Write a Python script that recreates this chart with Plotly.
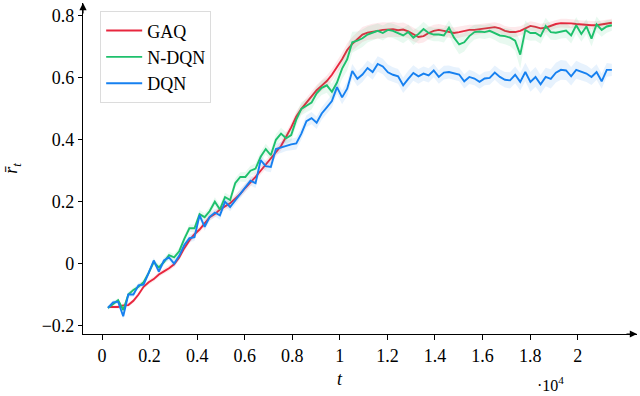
#!/usr/bin/env python3

import plotly.graph_objects as go

# training steps (x axis), one point every ~214 steps
steps = [250 + 214 * k for k in range(100)]

gaq = [
    -0.140, -0.140, -0.140, -0.135, -0.134, -0.120, -0.100, -0.075, -0.060, -0.050,
    -0.035, -0.025, -0.015, -0.002, 0.020, 0.050, 0.075, 0.095, 0.110, 0.130,
    0.150, 0.160, 0.175, 0.185, 0.195, 0.210, 0.225, 0.245, 0.262, 0.280,
    0.300, 0.320, 0.337, 0.360, 0.380, 0.410, 0.440, 0.475, 0.500, 0.520,
    0.540, 0.560, 0.575, 0.590, 0.610, 0.635, 0.660, 0.690, 0.710, 0.725,
    0.740, 0.746, 0.750, 0.752, 0.755, 0.755, 0.757, 0.754, 0.756, 0.750,
    0.740, 0.732, 0.735, 0.745, 0.752, 0.755, 0.752, 0.748, 0.745, 0.748,
    0.752, 0.755, 0.755, 0.757, 0.760, 0.762, 0.764, 0.760, 0.752, 0.748,
    0.748, 0.752, 0.760, 0.768, 0.765, 0.760, 0.762, 0.768, 0.774, 0.777,
    0.777, 0.776, 0.774, 0.772, 0.771, 0.770, 0.770, 0.772, 0.775, 0.778,
]

ndqn = [
    -0.143, -0.130, -0.118, -0.150, -0.100, -0.085, -0.075, -0.060, -0.030, 0.005,
    -0.012, 0.005, 0.027, 0.020, 0.040, 0.080, 0.114, 0.114, 0.160, 0.150,
    0.170, 0.200, 0.175, 0.215, 0.205, 0.260, 0.280, 0.280, 0.300, 0.307,
    0.345, 0.370, 0.350, 0.400, 0.420, 0.405, 0.415, 0.465, 0.500, 0.510,
    0.520, 0.550, 0.568, 0.576, 0.555, 0.585, 0.630, 0.660, 0.715, 0.720,
    0.728, 0.740, 0.745, 0.752, 0.745, 0.755, 0.752, 0.745, 0.737, 0.748,
    0.730, 0.742, 0.758, 0.745, 0.740, 0.740, 0.737, 0.762, 0.730, 0.708,
    0.715, 0.735, 0.748, 0.750, 0.748, 0.752, 0.745, 0.737, 0.735, 0.730,
    0.720, 0.675, 0.755, 0.745, 0.745, 0.735, 0.768, 0.748, 0.746, 0.750,
    0.753, 0.737, 0.770, 0.742, 0.766, 0.727, 0.773, 0.755, 0.766, 0.770,
]

dqn = [
    -0.143, -0.125, -0.123, -0.170, -0.100, -0.100, -0.070, -0.068, -0.030, 0.010,
    -0.026, 0.010, 0.020, 0.000, 0.025, 0.060, 0.082, 0.085, 0.156, 0.119,
    0.151, 0.165, 0.156, 0.200, 0.183, 0.205, 0.227, 0.245, 0.268, 0.260,
    0.334, 0.315, 0.312, 0.370, 0.375, 0.382, 0.385, 0.388, 0.420, 0.460,
    0.470, 0.455, 0.485, 0.505, 0.525, 0.570, 0.537, 0.565, 0.622, 0.597,
    0.611, 0.632, 0.619, 0.645, 0.637, 0.618, 0.610, 0.605, 0.576, 0.597,
    0.616, 0.605, 0.614, 0.608, 0.624, 0.603, 0.617, 0.619, 0.614, 0.611,
    0.589, 0.603, 0.598, 0.587, 0.598, 0.600, 0.617, 0.603, 0.594, 0.592,
    0.610, 0.587, 0.619, 0.587, 0.603, 0.579, 0.603, 0.597, 0.617, 0.626,
    0.624, 0.605, 0.626, 0.619, 0.614, 0.603, 0.619, 0.589, 0.626, 0.626,
]

# spread of the runs (shaded band)
gaq_std = [
    0.005, 0.005, 0.006, 0.006, 0.006, 0.007, 0.007, 0.007, 0.008, 0.008,
    0.008, 0.008, 0.009, 0.009, 0.009, 0.010, 0.010, 0.010, 0.010, 0.010,
    0.010, 0.011, 0.011, 0.011, 0.012, 0.012, 0.012, 0.012, 0.013, 0.013,
    0.013, 0.014, 0.014, 0.014, 0.015, 0.015, 0.015, 0.016, 0.016, 0.016,
    0.017, 0.017, 0.018, 0.018, 0.019, 0.020, 0.021, 0.022, 0.022, 0.023,
    0.024, 0.024, 0.025, 0.025, 0.025, 0.024, 0.024, 0.023, 0.023, 0.022,
    0.022, 0.021, 0.021, 0.020, 0.020, 0.019, 0.019, 0.018, 0.018, 0.018,
    0.018, 0.017, 0.017, 0.017, 0.017, 0.016, 0.016, 0.016, 0.016, 0.016,
    0.016, 0.015, 0.015, 0.015, 0.015, 0.015, 0.015, 0.014, 0.014, 0.014,
    0.014, 0.014, 0.014, 0.013, 0.013, 0.013, 0.013, 0.013, 0.013, 0.013,
]

ndqn_std = [
    0.006, 0.006, 0.007, 0.008, 0.008, 0.008, 0.009, 0.009, 0.010, 0.010,
    0.010, 0.010, 0.011, 0.011, 0.011, 0.012, 0.012, 0.012, 0.013, 0.013,
    0.013, 0.014, 0.014, 0.014, 0.015, 0.015, 0.015, 0.016, 0.016, 0.016,
    0.017, 0.017, 0.018, 0.018, 0.019, 0.019, 0.020, 0.020, 0.021, 0.021,
    0.022, 0.022, 0.023, 0.024, 0.026, 0.030, 0.034, 0.036, 0.034, 0.030,
    0.028, 0.026, 0.025, 0.024, 0.024, 0.023, 0.023, 0.024, 0.025, 0.024,
    0.024, 0.023, 0.023, 0.022, 0.022, 0.022, 0.023, 0.024, 0.028, 0.032,
    0.030, 0.026, 0.024, 0.022, 0.022, 0.022, 0.023, 0.024, 0.026, 0.028,
    0.032, 0.045, 0.030, 0.025, 0.024, 0.025, 0.026, 0.025, 0.024, 0.023,
    0.024, 0.026, 0.027, 0.025, 0.024, 0.026, 0.025, 0.022, 0.020, 0.018,
]

dqn_std = [
    0.006, 0.007, 0.007, 0.010, 0.009, 0.008, 0.008, 0.008, 0.009, 0.009,
    0.010, 0.010, 0.010, 0.011, 0.011, 0.011, 0.012, 0.012, 0.012, 0.013,
    0.013, 0.013, 0.014, 0.014, 0.014, 0.015, 0.015, 0.015, 0.016, 0.016,
    0.016, 0.017, 0.017, 0.017, 0.018, 0.018, 0.018, 0.019, 0.019, 0.019,
    0.020, 0.020, 0.020, 0.021, 0.021, 0.022, 0.022, 0.023, 0.023, 0.024,
    0.024, 0.024, 0.025, 0.025, 0.025, 0.025, 0.024, 0.024, 0.025, 0.026,
    0.025, 0.024, 0.023, 0.023, 0.022, 0.022, 0.022, 0.021, 0.021, 0.022,
    0.023, 0.023, 0.022, 0.022, 0.022, 0.022, 0.023, 0.024, 0.025, 0.026,
    0.027, 0.028, 0.030, 0.032, 0.032, 0.030, 0.030, 0.031, 0.032, 0.032,
    0.031, 0.030, 0.029, 0.028, 0.027, 0.026, 0.025, 0.024, 0.022, 0.020,
]

x_tickvals = [0, 2000, 4000, 6000, 8000, 10000, 12000, 14000, 16000, 18000, 20000]
x_ticktext = ["0", "0.2", "0.4", "0.6", "0.8", "1", "1.2", "1.4", "1.6", "1.8", "2"]
y_tickvals = [-0.2, 0, 0.2, 0.4, 0.6, 0.8]
y_ticktext = ["\u22120.2", "0", "0.2", "0.4", "0.6", "0.8"]

series = [
    ("GAQ", gaq, gaq_std, "rgb(232,38,62)", "rgba(232,38,62,0.10)"),
    ("N-DQN", ndqn, ndqn_std, "rgb(30,192,108)", "rgba(30,192,108,0.10)"),
    ("DQN", dqn, dqn_std, "rgb(22,128,240)", "rgba(22,128,240,0.10)"),
]

FONT = "Liberation Serif"

fig = go.Figure()

for name, mean, std, color, fill in series:
    upper = [m + s for m, s in zip(mean, std)]
    lower = [m - s for m, s in zip(mean, std)]
    fig.add_trace(go.Scatter(
        x=steps + steps[::-1],
        y=upper + lower[::-1],
        fill="toself",
        fillcolor=fill,
        line=dict(width=0),
        hoverinfo="skip",
        showlegend=False,
    ))
    fig.add_trace(go.Scatter(
        x=steps, y=mean, mode="lines", name=name,
        line=dict(color=color, width=1.9),
    ))

fig.update_layout(
    width=640,
    height=396,
    margin=dict(l=83, r=3, t=3, b=62),
    paper_bgcolor="white",
    plot_bgcolor="white",
    font=dict(family=FONT, size=18, color="black"),
    showlegend=True,
    legend=dict(
        x=0.031, y=0.975, xanchor="left", yanchor="top",
        bgcolor="white", bordercolor="#dcdcdc", borderwidth=1,
        font=dict(family=FONT, size=18),
        itemwidth=36,
        tracegroupgap=0,
    ),
    xaxis=dict(
        range=[-799, 22493],
        tickvals=x_tickvals, ticktext=x_ticktext,
        ticks="outside", ticklen=5, tickwidth=1, tickcolor="black",
        showline=True, linecolor="black", linewidth=1.2,
        showgrid=False, zeroline=False,
    ),
    yaxis=dict(
        range=[-0.2274, 0.8419],
        tickvals=y_tickvals, ticktext=y_ticktext,
        ticks="outside", ticklen=4, tickwidth=1, tickcolor="black",
        showline=True, linecolor="black", linewidth=1.2,
        showgrid=False, zeroline=False,
    ),
    annotations=[
        # axis arrows
        dict(x=1, y=0, xref="paper", yref="paper", ax=-12, ay=0,
             text="", showarrow=True, arrowhead=2, arrowsize=1.2,
             arrowwidth=1.2, arrowcolor="black"),
        dict(x=0, y=1, xref="paper", yref="paper", ax=0, ay=12,
             text="", showarrow=True, arrowhead=2, arrowsize=1.2,
             arrowwidth=1.2, arrowcolor="black"),
        # axis labels
        dict(x=10000, y=-0.136, xref="x", yref="paper", yanchor="middle",
             text="<i>t</i>", showarrow=False, font=dict(size=18)),
        dict(x=18836, y=-0.15, xref="x", yref="paper", yanchor="middle",
             text="\u00b710<sup>4</sup>", showarrow=False, font=dict(size=16)),
        dict(x=-0.152, y=0.5, xref="paper", yref="paper",
             text="<i>r\u0304</i><sub><i>t</i></sub>", textangle=-90,
             showarrow=False, font=dict(size=18)),
    ],
)

# drop the browser's default page margin so the figure sits at (0, 0)
fig.write_html(
    "out.html",
    config={"displayModeBar": False},
    post_script="document.body.style.margin='0px';",
)
